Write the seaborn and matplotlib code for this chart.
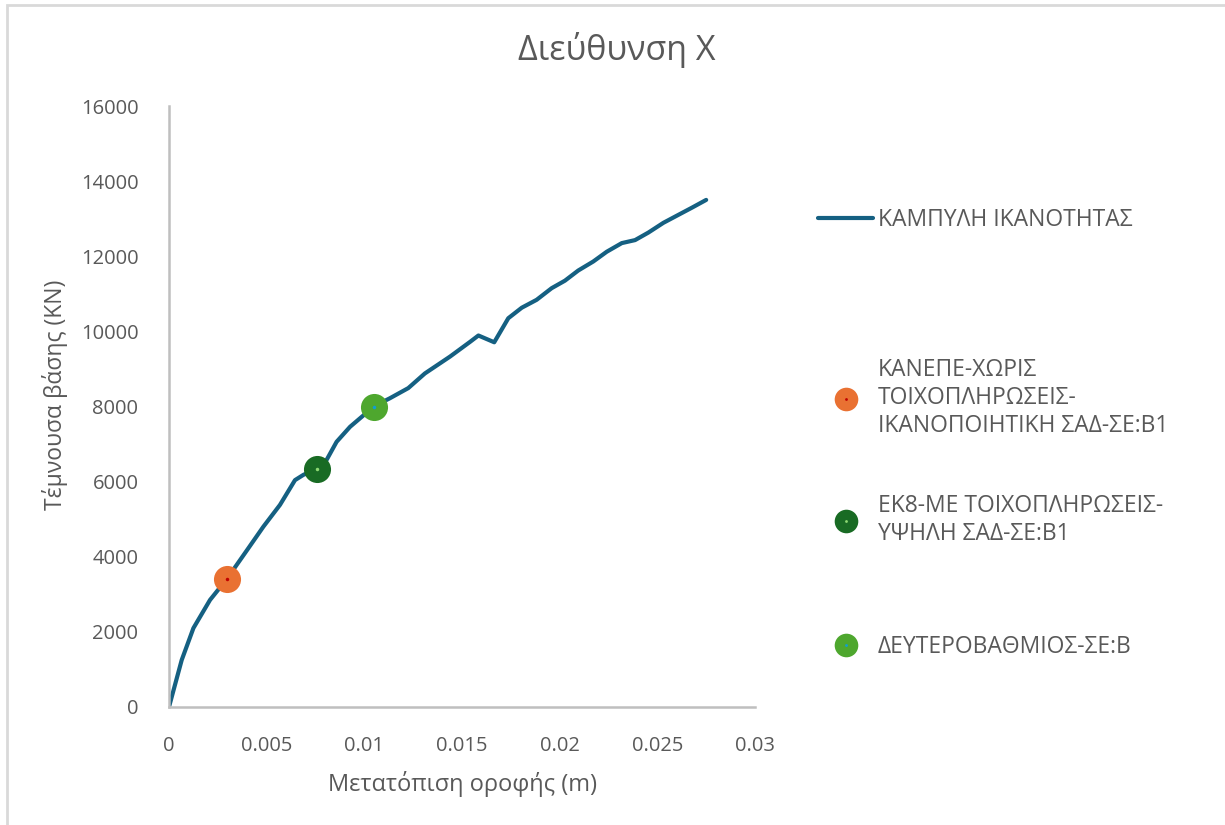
import matplotlib
matplotlib.use("Agg")
import matplotlib.pyplot as plt
from matplotlib.lines import Line2D
from matplotlib.patches import Rectangle
import seaborn as sns
import pandas as pd

# Pushover capacity curve: roof displacement (m) vs base shear (kN)
displacement = [0.0, 0.00065, 0.00125, 0.0021, 0.00295, 0.004, 0.00483, 0.00568,
                0.00645, 0.00688, 0.00756, 0.00807, 0.00858, 0.00927, 0.01051,
                0.01131, 0.01225, 0.0131, 0.01439, 0.01541, 0.01584, 0.01665,
                0.01737, 0.01806, 0.01882, 0.01959, 0.02027, 0.02095, 0.02172,
                0.02241, 0.02318, 0.02386, 0.02454, 0.02531, 0.02607, 0.02676,
                0.0275]
base_shear = [0, 1250, 2100, 2850, 3400, 4180, 4800, 5380, 6040, 6180, 6340,
              6580, 7060, 7460, 8010, 8220, 8490, 8880, 9330, 9720, 9890, 9710,
              10350, 10630, 10840, 11150, 11350, 11620, 11860, 12120, 12350,
              12430, 12630, 12890, 13100, 13290, 13500]

# Performance points
perf_labels = ["ΚΑΝΕΠΕ-ΧΩΡΙΣ\nΤΟΙΧΟΠΛΗΡΩΣΕΙΣ-\nΙΚΑΝΟΠΟΙΗΤΙΚΗ ΣΑΔ-ΣΕ:Β1",
               "ΕΚ8-ΜΕ ΤΟΙΧΟΠΛΗΡΩΣΕΙΣ-\nΥΨΗΛΗ ΣΑΔ-ΣΕ:Β1",
               "ΔΕΥΤΕΡΟΒΑΘΜΙΟΣ-ΣΕ:Β"]
perf_x = [0.00295, 0.00756, 0.01051]
perf_y = [3420, 6340, 8000]
perf_colors = ["#E97132", "#196B24", "#4EA72E"]
perf_inner = ["#C00000", "#8ED973", "#0F9ED5"]

curve_label = "ΚΑΜΠΥΛΗ ΙΚΑΝΟΤΗΤΑΣ"
line_color = "#156082"
text_color = "#595959"

x_ticks = [0, 0.005, 0.01, 0.015, 0.02, 0.025, 0.03]
x_tick_labels = ["0", "0.005", "0.01", "0.015", "0.02", "0.025", "0.03"]
y_ticks = [0, 2000, 4000, 6000, 8000, 10000, 12000, 14000, 16000]

sns.set_theme(style="white")
plt.rcParams["font.family"] = ["Open Sans", "DejaVu Sans"]

fig = plt.figure(figsize=(12.25, 8.25), dpi=100)
ax = fig.add_axes([169 / 1225, 1 - 707 / 825, 586 / 1225, 601 / 825])

# Outer chart frame
fig.patches.append(Rectangle((7 / 1225, -0.05), 1.2, 1 - 5 / 825 + 0.05,
                             transform=fig.transFigure, fill=False,
                             edgecolor="#D9D9D9", linewidth=2.0))

curve_df = pd.DataFrame({"x": displacement, "y": base_shear})
sns.lineplot(data=curve_df, x="x", y="y", ax=ax, color=line_color,
             linewidth=3.0, sort=False, estimator=None, legend=False)

for px, py, c, ic in zip(perf_x, perf_y, perf_colors, perf_inner):
    ax.plot([px], [py], marker="o", markersize=19.5, color=c,
            markeredgewidth=0, linestyle="none", zorder=5)
    ax.plot([px], [py], marker="o", markersize=2.5, color=ic,
            markeredgewidth=0, linestyle="none", zorder=6)

ax.set_xlim(0, 0.03)
ax.set_ylim(0, 16000)
ax.set_xticks(x_ticks)
ax.set_xticklabels(x_tick_labels)
ax.set_yticks(y_ticks)
ax.tick_params(axis="both", length=0, labelsize=14.5, colors=text_color)
ax.tick_params(axis="x", pad=21)
ax.tick_params(axis="y", pad=22)

for side in ["top", "right"]:
    ax.spines[side].set_visible(False)
for side in ["left", "bottom"]:
    ax.spines[side].set_color("#BFBFBF")
    ax.spines[side].set_linewidth(1.8)

ax.set_xlabel("Μετατόπιση οροφής (m)", fontsize=17, color=text_color, labelpad=11)
ax.set_ylabel("Τέμνουσα βάσης (KN)", fontsize=16.5, color=text_color)
ax.yaxis.set_label_coords(-0.172, 0.52)

fig.text(617 / 1225, 1 - 50 / 825, "Διεύθυνση Χ", ha="center", va="center",
         fontsize=24.5, color=text_color)

# Legend entries placed individually down the right-hand side
legend_kw = dict(frameon=False, fontsize=16.5, labelcolor=text_color,
                 handletextpad=0.2, borderpad=0, borderaxespad=0,
                 loc="center left")
h_line = Line2D([0], [0], color=line_color, linewidth=3.0)
leg = fig.legend([h_line], [curve_label], bbox_to_anchor=(818 / 1225, 1 - 220 / 825),
                 handlelength=2.4, **legend_kw)

legend_y = [398, 520, 647]
for lbl, c, ic, ly in zip(perf_labels, perf_colors, perf_inner, legend_y):
    h = (Line2D([0], [0], marker="o", markersize=17, color=c, markeredgewidth=0,
                linestyle="none"),
         Line2D([0], [0], marker="o", markersize=2, color=ic, markeredgewidth=0,
                linestyle="none"))
    leg = fig.legend([h], [lbl], bbox_to_anchor=(818 / 1225, 1 - ly / 825),
                     handlelength=2.4, **legend_kw)
    for t in leg.get_texts():
        t.set_linespacing(1.25)

fig.savefig("out.png", dpi=100)
